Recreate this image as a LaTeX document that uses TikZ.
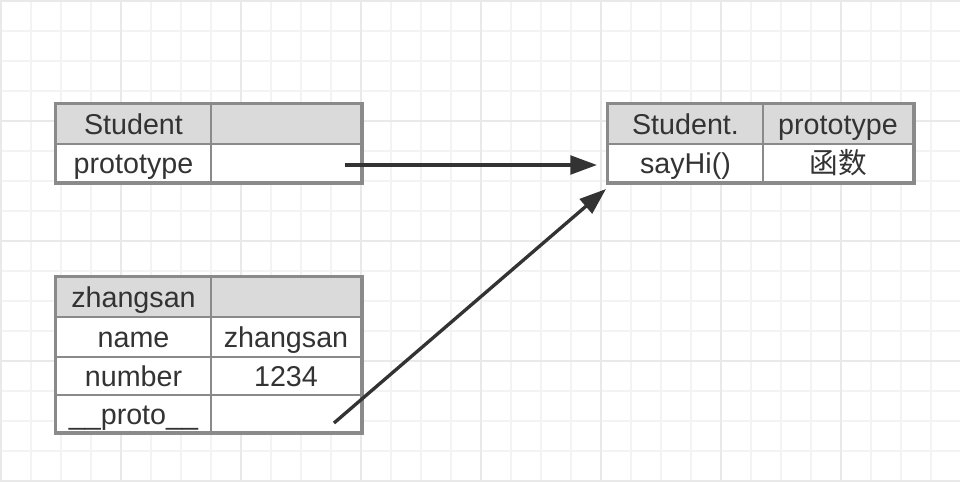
\documentclass[tikz,border=0pt]{standalone}
\usepackage{fontspec}
\setmainfont{Liberation Sans}
\newfontfamily\cjkfont{Noto Sans CJK SC}
\usetikzlibrary{arrows.meta,calc}
\definecolor{gridminor}{HTML}{F3F3F3}
\definecolor{gridmajor}{HTML}{E9E9E9}
\definecolor{bordergray}{HTML}{8A8A8A}
\definecolor{headfill}{HTML}{DADADA}
\definecolor{arrowdark}{HTML}{333333}
\definecolor{textdark}{HTML}{333333}
\begin{document}
\begin{tikzpicture}[x=0.75pt,y=-0.75pt,
  cellbox/.style={draw=bordergray, line width=1.5pt, inner sep=0pt, anchor=north west,
    font=\fontsize{21.5}{25}\selectfont, text=textdark, fill=white,
    text height=16pt, text depth=0pt},
  head/.style={fill=headfill},
  wcol/.style={minimum width=116.25pt},
  ncol/.style={minimum width=112.5pt},
  rh40/.style={minimum height=30pt},
  rh38/.style={minimum height=28.5pt},
  rh37/.style={minimum height=27.75pt},
  outerline/.style={draw=bordergray, line width=2.25pt},
  arrowline/.style={draw=arrowdark, line width=2.5pt, -{Triangle[length=20pt,width=14pt]}},
  minorline/.style={draw=gridminor, line width=1.2pt},
  majorline/.style={draw=gridmajor, line width=1.4pt}
]
\useasboundingbox (0,0) rectangle (960,482);
\fill[white] (0,0) rectangle (960,482);
% grid
\foreach \x in {1,31,...,961} \draw[minorline] (\x,0) -- (\x,482);
\foreach \y in {1,31,...,481} \draw[minorline] (0,\y) -- (960,\y);
\foreach \x in {1,121,...,961} \draw[majorline] (\x,0) -- (\x,482);
\foreach \y in {1,121,...,481} \draw[majorline] (0,\y) -- (960,\y);

% Student table
\node[cellbox,head,wcol,rh40] (st11) at (55,103) {Student};
\node[cellbox,head,ncol,rh40] (st12) at (210,103) {};
\node[cellbox,wcol,rh38] (st21) at (55,143) {prototype};
\node[cellbox,ncol,rh38] (st22) at (210,143) {};
\draw[outerline] (st11.north west) rectangle (st22.south east);

% Student.prototype table
\node[cellbox,head,wcol,rh40] (p11) at (607,103) {Student.};
\node[cellbox,head,ncol,rh40] (p12) at (762,103) {prototype};
\node[cellbox,wcol,rh38] (p21) at (607,143) {sayHi()};
\node[cellbox,ncol,rh38] (p22) at (762,143) {\cjkfont 函数};
\draw[outerline] (p11.north west) rectangle (p22.south east);

% zhangsan table
\node[cellbox,head,wcol,rh40] (z11) at (55,276) {zhangsan};
\node[cellbox,head,ncol,rh40] (z12) at (210,276) {};
\node[cellbox,wcol,rh40] (z21) at (55,316) {name};
\node[cellbox,ncol,rh40] (z22) at (210,316) {zhangsan};
\node[cellbox,wcol,rh38] (z31) at (55,356) {number};
\node[cellbox,ncol,rh38] (z32) at (210,356) {1234};
\node[cellbox,wcol,rh37] (z41) at (55,394) {\_\_proto\_\_};
\node[cellbox,ncol,rh37] (z42) at (210,394) {};
\draw[outerline] (z11.north west) rectangle (z42.south east);

% connectors
\coordinate (a1s) at ($(st22.east)+(-17,2)$);
\coordinate (a1e) at ($(p21.west)+(-10,2)$);
\draw[arrowline] (a1s) -- (a1e);
\coordinate (a2s) at ($(z42.south east)+(-28,-10)$);
\coordinate (a2e) at ($(p21.south west)+(-1,6)$);
\draw[arrowline] (a2s) -- (a2e);
\end{tikzpicture}
\end{document}
